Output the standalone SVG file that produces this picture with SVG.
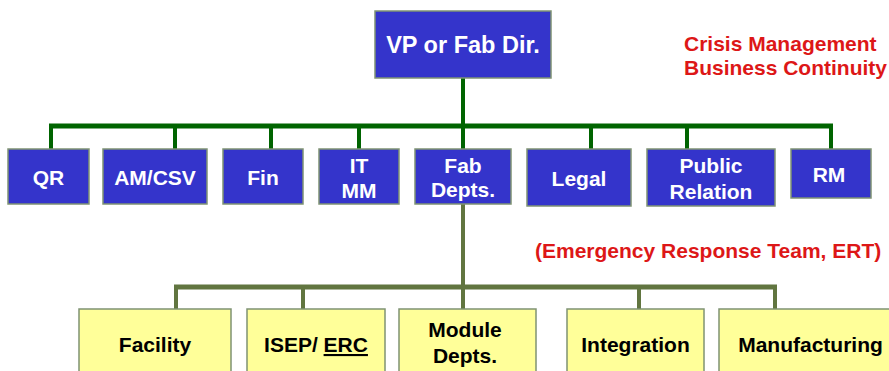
<svg xmlns="http://www.w3.org/2000/svg" width="889" height="371" viewBox="0 0 889 371">
<style>
.top{fill:#3434CB;stroke:#7F9373;stroke-width:1.5}
.sub{fill:#FFFF99;stroke:#7F9373;stroke-width:1.5}
.wt{font-family:"Liberation Sans",Arial,sans-serif;font-weight:bold;font-size:21px;fill:#FFFFFF;text-anchor:middle}
.bt{font-family:"Liberation Sans",Arial,sans-serif;font-weight:bold;font-size:21px;fill:#000000;text-anchor:middle}
.rt{font-family:"Liberation Sans",Arial,sans-serif;font-weight:bold;font-size:21px;fill:#DD1717}
.c1{stroke:#006400;stroke-width:5;fill:none}
.c1v{stroke:#006400;stroke-width:4;fill:none}
.c2{stroke:#617540;stroke-width:5;fill:none}
.c2v{stroke:#617540;stroke-width:4;fill:none}
</style>
<rect width="889" height="371" fill="#FFFFFF"/>
<g id="connectors">
<line class="c1v" x1="463" y1="78" x2="463" y2="149"/>
<line class="c1" x1="49" y1="126" x2="833" y2="126"/>
<line class="c1v" x1="51" y1="126" x2="51" y2="149"/>
<line class="c1v" x1="175" y1="126" x2="175" y2="149"/>
<line class="c1v" x1="271" y1="126" x2="271" y2="149"/>
<line class="c1v" x1="359" y1="126" x2="359" y2="149"/>
<line class="c1v" x1="591" y1="126" x2="591" y2="149"/>
<line class="c1v" x1="687" y1="126" x2="687" y2="149"/>
<line class="c1v" x1="831" y1="126" x2="831" y2="149"/>
<line class="c2v" x1="463" y1="204" x2="463" y2="309"/>
<line class="c2" x1="174" y1="287" x2="777" y2="287"/>
<line class="c2v" x1="176" y1="287" x2="176" y2="309"/>
<line class="c2v" x1="303" y1="287" x2="303" y2="309"/>
<line class="c2v" x1="639" y1="287" x2="639" y2="309"/>
<line class="c2v" x1="775" y1="287" x2="775" y2="309"/>
</g>
<g id="vp">
<rect class="top" x="375" y="11" width="176" height="67"/>
<text class="wt" x="463" y="53" style="font-size:23.5px">VP or Fab Dir.</text>
</g>
<g id="qr">
<rect class="top" x="8" y="149" width="81" height="55"/>
<text class="wt" x="48.5" y="185">QR</text>
</g>
<g id="amcsv">
<rect class="top" x="103" y="149" width="104" height="55"/>
<text class="wt" x="155" y="185">AM/CSV</text>
</g>
<g id="fin">
<rect class="top" x="223" y="149" width="80" height="55"/>
<text class="wt" x="263" y="185">Fin</text>
</g>
<g id="itmm">
<rect class="top" x="319" y="149" width="80" height="55"/>
<text class="wt" x="359" y="173">IT</text>
<text class="wt" x="359" y="198">MM</text>
</g>
<g id="fab">
<rect class="top" x="415" y="149" width="96" height="55"/>
<text class="wt" x="463" y="173">Fab</text>
<text class="wt" x="463" y="197">Depts.</text>
</g>
<g id="legal">
<rect class="top" x="527" y="149" width="104" height="57"/>
<text class="wt" x="579" y="186">Legal</text>
</g>
<g id="pr">
<rect class="top" x="647" y="149" width="128" height="57"/>
<text class="wt" x="711" y="173">Public</text>
<text class="wt" x="711" y="199">Relation</text>
</g>
<g id="rm">
<rect class="top" x="791" y="149" width="80" height="49"/>
<text class="wt" x="829" y="182">RM</text>
</g>
<g id="labels">
<text class="rt" x="684" y="51">Crisis Management</text>
<text class="rt" x="684" y="75">Business Continuity</text>
<text class="rt" x="535" y="258">(Emergency Response Team, ERT)</text>
</g>
<g id="facility">
<rect class="sub" x="79" y="309" width="152" height="70"/>
<text class="bt" x="155" y="352">Facility</text>
</g>
<g id="isep">
<rect class="sub" x="247" y="309" width="138" height="70"/>
<text class="bt" x="316" y="352">ISEP/ <tspan text-decoration="underline">ERC</tspan></text>
</g>
<g id="module">
<rect class="sub" x="399" y="309" width="137" height="70"/>
<text class="bt" x="465" y="337">Module</text>
<text class="bt" x="465" y="363">Depts.</text>
</g>
<g id="integration">
<rect class="sub" x="567" y="309" width="137" height="70"/>
<text class="bt" x="635.5" y="352">Integration</text>
</g>
<g id="manufacturing">
<rect class="sub" x="719" y="309" width="183" height="70"/>
<text class="bt" x="810.5" y="352">Manufacturing</text>
</g>
</svg>
